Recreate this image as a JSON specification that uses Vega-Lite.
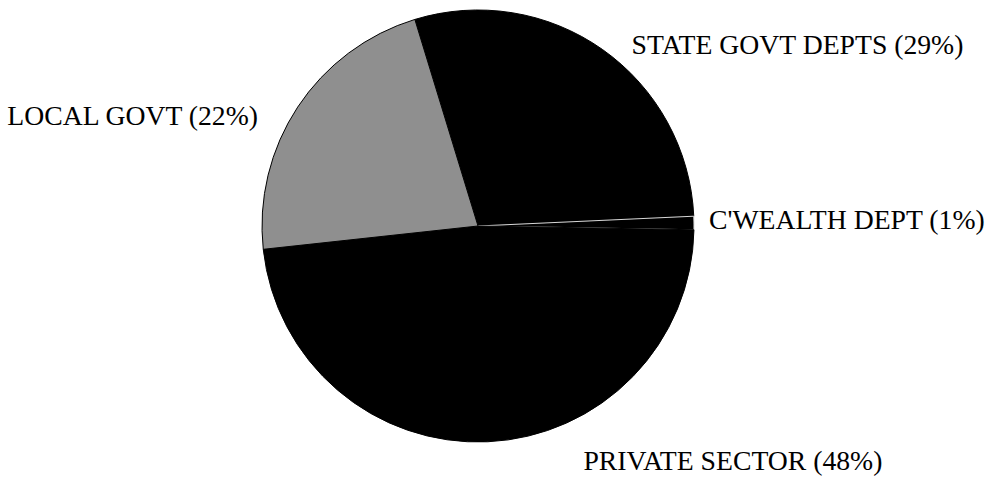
{
  "$schema": "https://vega.github.io/schema/vega-lite/v6.json",
  "autosize": "none",
  "width": 432,
  "height": 432,
  "padding": {"left": 262, "top": 10, "right": 301, "bottom": 39},
  "background": "white",
  "config": {"view": {"stroke": null}},
  "data": {
    "values": [
      {"sector": "STATE GOVT DEPTS", "share": 29, "label": "STATE GOVT DEPTS (29%)"},
      {"sector": "C'WEALTH DEPT", "share": 1, "label": "C'WEALTH DEPT (1%)"},
      {"sector": "PRIVATE SECTOR", "share": 48, "label": "PRIVATE SECTOR (48%)"},
      {"sector": "LOCAL GOVT", "share": 22, "label": "LOCAL GOVT (22%)"}
    ]
  },
  "transform": [{"window": [{"op": "row_number", "as": "idx"}]}],
  "encoding": {
    "theta": {"field": "share", "type": "quantitative", "stack": true, "scale": {"range": [-0.2967, 5.9865]}},
    "order": {"field": "idx", "type": "quantitative"}
  },
  "layer": [
    {
      "mark": {"type": "arc", "strokeWidth": 1},
      "encoding": {
        "color": {
          "field": "sector",
          "type": "nominal",
          "legend": null,
          "scale": {
            "domain": ["STATE GOVT DEPTS", "C'WEALTH DEPT", "PRIVATE SECTOR", "LOCAL GOVT"],
            "range": ["#000000", "#000000", "#000000", "#8f8f8f"]
          }
        },
        "stroke": {"condition": {"test": "datum.idx === 2", "value": "#d8d8d8"}, "value": "#000000"},
        "strokeDash": {"condition": {"test": "datum.idx === 2", "value": [3, 2]}, "value": [1, 0]}
      }
    },
    {
      "mark": {"type": "text", "radius": 230, "font": "Liberation Serif", "fontSize": 27.7, "align": "left", "baseline": "middle", "dx": 21, "dy": 8, "color": "#000000"},
      "encoding": {"text": {"condition": {"test": "datum.idx === 1", "field": "label"}, "value": ""}}
    },
    {
      "mark": {"type": "text", "radius": 230, "font": "Liberation Serif", "fontSize": 27.7, "align": "left", "baseline": "middle", "dx": 1, "dy": -2, "color": "#000000"},
      "encoding": {"text": {"condition": {"test": "datum.idx === 2", "field": "label"}, "value": ""}}
    },
    {
      "mark": {"type": "text", "radius": 230, "font": "Liberation Serif", "fontSize": 27.7, "align": "left", "baseline": "middle", "dx": 95, "dy": 6, "color": "#000000"},
      "encoding": {"text": {"condition": {"test": "datum.idx === 3", "field": "label"}, "value": ""}}
    },
    {
      "mark": {"type": "text", "radius": 230, "font": "Liberation Serif", "fontSize": 27.7, "align": "right", "baseline": "middle", "dx": -28, "dy": 18, "color": "#000000"},
      "encoding": {"text": {"condition": {"test": "datum.idx === 4", "field": "label"}, "value": ""}}
    }
  ]
}
